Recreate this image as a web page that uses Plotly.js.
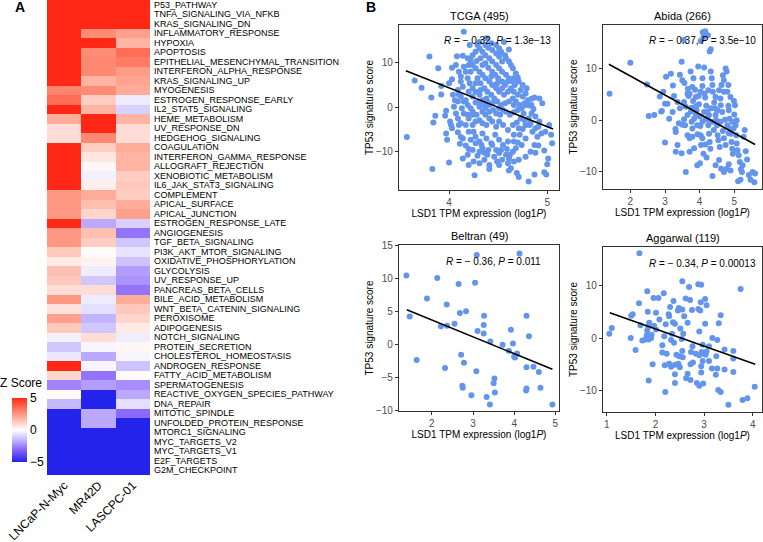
<!DOCTYPE html>
<html><head><meta charset="utf-8">
<script src="https://cdn.plot.ly/plotly-3.0.1.min.js"></script>
<style>html,body{margin:0;padding:0;background:#fff}#chart{width:763px;height:542px}</style>
</head><body><div id="chart"></div>
<script>
// ---------- Panel A: heatmap data ----------
const cellLines = ["LNCaP-N-Myc", "MR42D", "LASCPC-01"];
const pathways = ["P53_PATHWAY","TNFA_SIGNALING_VIA_NFKB","KRAS_SIGNALING_DN","INFLAMMATORY_RESPONSE","HYPOXIA","APOPTOSIS","EPITHELIAL_MESENCHYMAL_TRANSITION","INTERFERON_ALPHA_RESPONSE","KRAS_SIGNALING_UP","MYOGENESIS","ESTROGEN_RESPONSE_EARLY","IL2_STAT5_SIGNALING","HEME_METABOLISM","UV_RESPONSE_DN","HEDGEHOG_SIGNALING","COAGULATION","INTERFERON_GAMMA_RESPONSE","ALLOGRAFT_REJECTION","XENOBIOTIC_METABOLISM","IL6_JAK_STAT3_SIGNALING","COMPLEMENT","APICAL_SURFACE","APICAL_JUNCTION","ESTROGEN_RESPONSE_LATE","ANGIOGENESIS","TGF_BETA_SIGNALING","PI3K_AKT_MTOR_SIGNALING","OXIDATIVE_PHOSPHORYLATION","GLYCOLYSIS","UV_RESPONSE_UP","PANCREAS_BETA_CELLS","BILE_ACID_METABOLISM","WNT_BETA_CATENIN_SIGNALING","PEROXISOME","ADIPOGENESIS","NOTCH_SIGNALING","PROTEIN_SECRETION","CHOLESTEROL_HOMEOSTASIS","ANDROGEN_RESPONSE","FATTY_ACID_METABOLISM","SPERMATOGENESIS","REACTIVE_OXYGEN_SPECIES_PATHWAY","DNA_REPAIR","MITOTIC_SPINDLE","UNFOLDED_PROTEIN_RESPONSE","MTORC1_SIGNALING","MYC_TARGETS_V2","MYC_TARGETS_V1","E2F_TARGETS","G2M_CHECKPOINT"];
const zLNCaP = [5,5,5,5,5,5,5,5,5,3,3.5,5,2.0,0.8,0.8,5,5,5,5,5,2.5,2.5,2.5,5,2.5,2.5,1.3,0.5,1.5,1.3,0.8,2.5,0.7,2.3,1.3,-0.3,-1.2,-0.5,5,1.0,-2.5,0.1,-1.5,-5,-5,-5,-5,-5,-5,-5];
const zMR42D = [5,5,5,2.8,5,2.8,2.9,2.9,1.8,2.8,1.2,1.8,5,5,2.9,1.2,0.6,0.2,-0.3,0.4,2.0,1.5,1.0,-1.8,1.5,1.2,0.1,0.3,-0.4,-1.2,0.8,-0.4,-0.7,-1.6,-1.2,0.8,-0.2,-1.8,-0.2,-2.8,-2.0,-5,-5,-1.8,-1.8,-5,-5,-5,-5,-5];
const zLASCPC = [5,5,5,2.3,1.8,3.5,3.2,2.4,2.2,2.0,-0.4,-1.0,1.8,0.8,0.8,2.0,1.8,1.8,1.2,1.3,1.2,2.0,2.3,-1.0,-2.8,-1.2,-0.6,-1.3,-2.0,-2.2,-2.8,2.0,1.3,1.0,0.5,-0.4,0.2,-0.2,-1.3,-0.1,-2.3,-1.8,-0.7,-3.0,-5,-5,-5,-5,-5,-5];
const colorbarTicks = [-5, 0, 5];

// ---------- Panel B: scatter data (LSD1 log1P TPM, TP53 signature score) ----------
const cohortTitles = ["TCGA (495)", "Abida (266)", "Beltran (49)", "Aggarwal (119)"];
const statLabels = ["<i>R</i> = \u2212 0.32, <i>P</i> = 1.3e\u221213", "<i>R</i> = \u2212 0.37, <i>P</i> = 3.5e\u221210", "<i>R</i> = \u2212 0.36, <i>P</i> = 0.011", "<i>R</i> = \u2212 0.34, <i>P</i> = 0.00013"];
const tcgaPoints = [[4.15,17.0],[3.80,11.4],[3.89,8.8],[3.65,6.0],[3.72,4.4],[3.82,2.2],[3.86,-1.9],[3.84,-3.4],[3.57,-6.7],[3.97,-5.9],
[3.98,-7.3],[4.00,-12.4],[3.83,-13.9],[4.26,-15.3],[4.41,-13.9],[4.49,-12.2],[4.03,8.9],[4.03,6.3],[4.00,5.4],[3.92,4.8],
[3.92,2.9],[3.97,-0.8],[3.96,-1.9],[4.01,-3.2],[4.09,-5.6],[4.12,-6.7],[4.11,-8.2],[4.19,-10.7],[4.20,-9.4],[4.29,-10.9],
[4.36,-10.2],[4.33,-8.5],[4.61,-14.2],[4.63,-13.7],[4.69,-14.8],[4.71,-15.7],[4.81,-16.7],[4.87,-15.1],[4.97,-14.6],[4.99,-15.1],
[5.01,-11.5],[5.00,-12.8],[5.05,-8.1],[4.97,-9.7],[4.88,-10.2],[4.91,-8.6],[4.94,-5.9],[4.88,-4.7],[4.95,0.9],[4.92,2.0],
[4.87,2.2],[4.84,1.9],[4.82,0.4],[4.79,4.3],[4.70,6.7],[4.78,0.5],[4.61,13.0],[4.56,14.7],[4.31,14.7],[4.21,14.0],
[4.08,11.5],[4.14,11.6],[4.12,6.9],[4.14,4.6],[4.10,2.8],[4.17,1.6],[4.19,0.5],[4.15,-1.4],[4.20,-2.5],[4.24,-4.0],
[4.25,-5.5],[4.22,-7.3],[4.27,-6.6],[4.31,-7.7],[4.34,-5.9],[4.38,-7.0],[4.43,-8.1],[4.47,-6.2],[4.51,-7.3],[4.55,-8.5],
[4.59,-9.4],[4.62,-10.7],[4.66,-7.7],[4.70,-7.9],[4.72,-6.2],[4.75,-4.9],[4.78,-4.0],[4.81,-2.5],[4.84,-1.4],[4.86,-0.4],
[4.88,-2.1],[4.76,-1.4],[4.73,-2.5],[4.69,-3.4],[4.65,-4.0],[4.60,-5.1],[4.55,-4.0],[4.51,-3.2],[4.48,-4.4],[4.44,-3.2],
[4.41,-2.5],[4.38,-4.0],[4.34,-3.6],[4.31,-2.9],[4.28,-1.7],[4.24,-1.0],[4.22,-0.2],[4.27,1.1],[4.31,0.1],[4.34,-1.0],
[4.37,-0.2],[4.41,0.5],[4.45,-0.6],[4.48,-1.4],[4.52,-1.7],[4.55,-0.6],[4.58,-1.0],[4.62,-1.7],[4.66,-1.1],[4.70,-0.6],
[4.72,0.5],[4.68,1.3],[4.65,2.0],[4.61,1.3],[4.57,0.9],[4.53,0.5],[4.49,1.3],[4.46,2.0],[4.43,2.8],[4.38,2.0],
[4.34,1.6],[4.31,2.8],[4.27,3.5],[4.24,4.3],[4.21,5.4],[4.19,6.5],[4.17,8.0],[4.20,9.5],[4.22,10.6],[4.24,11.7],
[4.27,12.5],[4.31,13.2],[4.34,12.5],[4.37,11.7],[4.41,11.0],[4.44,10.3],[4.48,9.5],[4.51,8.8],[4.54,8.0],[4.58,7.3],
[4.61,6.5],[4.65,5.8],[4.67,5.0],[4.63,4.3],[4.60,3.5],[4.56,2.8],[4.51,3.5],[4.48,4.3],[4.44,5.0],[4.41,5.8],
[4.37,6.5],[4.34,7.3],[4.31,8.0],[4.27,8.8],[4.24,9.5],[4.28,10.4],[4.32,11.0],[4.37,9.9],[4.40,8.9],[4.44,8.0],
[4.47,7.3],[4.50,6.5],[4.54,5.8],[4.57,5.0],[4.54,10.3],[4.51,11.4],[4.48,12.1],[4.44,12.9],[4.40,13.4],[4.37,14.0],
[4.51,13.2],[4.57,11.7],[4.61,10.3],[4.65,8.8],[4.68,7.6],[4.29,6.5],[4.32,5.4],[4.36,4.3],[4.39,3.5],[4.32,3.9],
[4.27,5.4],[4.22,8.0],[4.34,9.5],[4.43,6.9],[4.49,5.4],[4.54,4.3],[4.60,5.8],[4.66,3.5],[4.70,2.8],[4.75,2.4],
[4.77,0.9],[4.74,-0.2],[4.80,1.6],[4.84,0.5],[4.82,-4.0],[4.85,-5.5],[4.90,-6.6],[4.78,-7.0],[4.74,-8.5],[4.68,-9.2],
[4.65,-10.0],[4.58,-10.7],[4.54,-11.8],[4.51,-10.3],[4.48,-9.6],[4.44,-8.5],[4.40,-9.6],[4.36,-11.8],[4.31,-12.6],[4.25,-12.2],
[4.20,-13.0],[4.14,-11.5],[4.17,-8.6],[4.14,-7.0],[4.10,-4.0],[4.09,-2.5],[4.07,-1.4],[4.05,0.1],[4.09,1.3],[4.13,-0.2],
[4.17,-4.0],[4.20,-5.5],[4.27,-8.1],[4.34,-9.2],[4.39,-10.7],[4.46,-11.1],[4.53,-9.6],[4.60,-7.7],[4.66,-6.2],[4.71,-4.7],
[4.77,-2.9],[4.83,-3.6],[4.92,-3.2],[4.98,-5.5],[5.02,-4.0],[5.04,-6.2],[4.91,-4.4],[4.87,-8.5],[4.83,-10.0],[4.78,-11.1],
[4.71,-11.8],[4.66,-12.2],[4.60,-12.6],[4.41,-13.0],[4.31,-10.0],[4.24,-9.6],[4.51,-13.0],[4.61,-11.5],[4.12,-3.6],[4.03,-4.7],
[4.02,-4.0],[4.06,1.6],[4.04,2.8],[4.09,3.9],[4.12,5.8],[4.15,9.1],[4.19,11.0],[4.10,8.0],[4.07,9.5],[4.29,14.0],
[4.38,15.5],[4.43,14.4],[4.48,14.0],[4.53,12.5],[4.58,11.0],[4.63,9.5],[4.66,6.5],[4.71,5.8],[4.75,5.0],[4.73,3.9],
[4.78,3.1],[4.66,0.5],[4.51,-0.2],[4.44,0.9],[4.41,-1.0],[4.37,-1.7],[4.27,-3.2],[4.24,-1.7],[4.19,-1.7],[4.15,1.3],
[4.12,2.4],[4.20,3.5],[4.24,2.4],[4.31,1.3],[4.36,0.5],[4.39,1.3]];
const abidaPoints = [[1.40,5.1],[2.00,11.1],[2.48,6.9],[2.53,0.8],[2.69,1.0],[2.91,1.8],[2.95,5.5],[2.85,4.6],[3.00,3.2],[3.07,3.2],
[2.89,1.7],[3.00,-4.3],[3.03,8.4],[3.17,9.0],[3.23,6.7],[3.26,4.7],[3.30,-1.7],[3.36,3.5],[3.40,-0.6],[3.43,8.8],
[3.48,11.3],[3.50,7.7],[3.56,7.2],[3.54,15.5],[3.60,2.6],[3.55,0.2],[3.50,-0.9],[3.58,-1.0],[3.66,6.1],[3.68,4.7],
[3.71,5.1],[3.74,9.4],[3.75,1.7],[3.77,-0.3],[3.79,-1.6],[3.81,3.7],[3.82,8.1],[3.87,5.9],[3.89,2.7],[3.91,1.9],
[3.89,1.0],[3.94,-2.7],[3.96,10.4],[3.97,4.7],[3.98,3.1],[4.00,0.7],[4.02,-1.1],[4.04,-4.8],[4.08,6.6],[4.09,17.0],
[4.16,17.2],[4.11,16.1],[4.03,15.3],[4.24,16.4],[4.29,13.3],[4.32,13.7],[4.13,10.2],[4.14,5.1],[4.16,4.4],[4.19,2.8],
[4.22,1.6],[4.23,0.1],[4.25,-1.0],[4.27,-2.6],[4.29,-4.2],[4.31,-5.5],[4.20,-7.2],[4.01,-8.3],[4.32,9.4],[4.35,8.1],
[4.38,5.5],[4.42,3.4],[4.44,2.3],[4.46,1.0],[4.48,0.0],[4.50,-1.0],[4.52,-2.9],[4.54,-3.9],[4.58,-5.2],[4.56,5.8],
[4.60,4.2],[4.61,2.9],[4.63,6.8],[4.67,8.7],[4.70,7.7],[4.75,10.0],[4.78,9.4],[4.80,5.5],[4.83,2.8],[4.84,1.9],
[4.86,0.3],[4.88,-1.6],[4.90,-2.6],[4.92,-4.2],[4.94,-5.5],[4.96,-6.5],[4.98,-1.6],[5.00,1.1],[5.02,2.9],[5.04,-1.0],
[5.06,-2.9],[5.07,-4.5],[5.09,-5.8],[5.13,-6.8],[5.16,-8.1],[5.19,-9.5],[5.22,-10.0],[5.24,-8.7],[5.27,-3.2],[5.30,-1.9],
[5.33,-6.0],[5.37,-7.6],[5.42,-10.6],[5.47,-11.5],[5.53,-10.0],[5.58,-12.0],[5.60,-10.3],[5.18,-11.5],[5.11,-11.8],[4.37,-10.8],
[4.46,-8.7],[4.56,-7.7],[4.62,-9.4],[4.70,-10.0],[4.78,-9.4],[4.84,-8.5],[4.89,-9.7],[3.60,-10.0],[3.71,-6.1],[3.84,-5.4],
[3.93,-8.7],[4.11,-6.5],[4.17,-4.7],[3.36,-4.8],[3.31,-6.1],[3.48,-6.4],[3.65,-2.9],[3.71,-3.5],[3.93,-1.0],[4.03,-2.9],
[3.79,-3.2],[4.08,-3.5],[4.13,1.6],[4.32,2.3],[4.41,-1.9],[4.60,-0.3],[4.67,-2.1],[4.70,-3.5],[4.75,-4.8],[4.80,-1.0],
[4.84,-2.5],[4.08,-0.3],[4.17,0.3],[4.27,1.0],[4.37,-0.3],[4.51,1.9],[4.65,1.6],[4.73,0.1],[4.94,-0.3],[5.07,0.0],
[4.99,3.7],[4.89,4.5],[4.83,6.8],[4.70,5.5],[4.46,4.5],[4.37,6.8],[4.25,5.8],[4.08,8.1],[4.03,5.5],[3.89,4.5],
[3.79,6.4],[3.65,5.1],[3.55,3.5],[3.43,2.3],[3.22,1.6],[3.12,0.3],[3.31,-2.3],[3.65,1.0],[3.77,2.4],[3.84,0.3]];
const beltranPoints = [[1.38,10.4],[1.46,4.2],[1.63,-2.4],[1.88,6.9],[2.13,10.0],[2.36,6.0],[2.22,2.7],[2.37,2.8],[2.32,-3.6],[2.55,3.1],
[2.65,9.1],[2.68,4.7],[2.83,5.0],[2.71,-1.6],[2.74,-6.3],[2.75,-6.6],[2.78,-2.8],[2.96,-7.7],[3.05,9.3],[3.09,13.5],
[3.11,2.0],[3.08,-4.1],[3.27,4.3],[3.26,2.9],[3.26,1.6],[3.33,-8.0],[3.41,-9.1],[3.42,0.4],[3.50,-5.9],[3.52,-5.2],
[3.53,-7.3],[3.72,-0.1],[3.87,-1.0],[3.92,2.2],[3.97,0.1],[4.02,-2.0],[4.07,-1.4],[4.13,13.7],[4.30,4.3],[4.30,-3.5],
[4.30,-6.7],[4.29,-7.0],[4.36,1.2],[4.47,-3.4],[4.60,-4.2],[4.64,-6.6],[4.93,-9.1],[4.00,-1.9]];
const aggarwalPoints = [[1.67,16.2],[2.55,10.9],[2.69,9.8],[2.88,10.3],[2.94,10.2],[3.75,9.4],[1.83,9.0],[2.17,8.6],[1.96,7.7],[2.06,7.7],
[2.62,7.6],[2.71,7.3],[3.02,7.5],[2.37,7.1],[2.93,6.9],[1.66,6.7],[2.30,6.0],[2.48,5.8],[2.55,5.5],[2.88,5.6],
[3.05,6.3],[1.84,5.1],[2.27,4.6],[2.46,5.3],[2.75,5.4],[2.92,5.3],[1.53,4.6],[1.50,4.3],[3.34,4.4],[1.10,2.0],
[1.05,0.9],[1.69,2.5],[1.87,3.0],[1.85,2.2],[2.08,3.6],[2.21,2.7],[2.36,3.1],[2.51,1.9],[2.57,0.9],[2.34,0.9],
[2.40,2.8],[1.97,2.4],[2.01,1.7],[1.92,0.7],[1.82,0.6],[1.79,-0.2],[1.73,-0.4],[1.86,-0.2],[1.91,0.1],[1.49,0.1],
[1.83,1.5],[1.59,-2.2],[2.14,-1.3],[2.32,-0.3],[2.38,-0.8],[2.54,-0.1],[2.90,1.3],[2.97,-1.2],[3.02,2.8],[3.17,0.1],
[3.27,-0.3],[3.30,2.9],[2.23,-2.9],[2.43,-3.1],[2.49,-3.4],[2.56,-3.6],[2.55,-2.4],[2.73,-2.6],[2.83,-2.9],[2.95,-2.6],
[3.00,-2.9],[3.05,-2.5],[2.90,-3.2],[3.03,-3.1],[3.25,-3.4],[3.42,-2.1],[3.60,-2.4],[3.60,-3.8],[1.94,-4.9],[2.19,-5.1],
[2.28,-4.8],[2.32,-5.4],[2.40,-5.0],[2.47,-4.8],[2.72,-4.9],[2.77,-4.6],[2.94,-5.3],[3.16,-5.7],[3.27,-5.7],[3.42,-5.9],
[3.60,-6.4],[2.40,-6.8],[2.66,-6.7],[2.50,-5.5],[2.94,-6.5],[3.24,-6.9],[2.63,-7.6],[2.72,-7.9],[1.86,-8.0],[2.40,-8.5],
[2.85,-8.5],[2.90,-9.0],[2.98,-8.6],[2.20,-10.2],[3.29,-9.8],[3.34,-10.2],[4.04,-9.2],[3.50,-12.6],[3.79,-11.7],[3.89,-11.4],
[2.28,4.2],[2.59,4.2],[3.10,-1.5],[2.66,3.0],[2.76,-1.5],[2.01,4.9],[2.14,-2.7],[3.10,-4.3],[2.97,-4.3],[2.18,0.4]];
// fitted regression line end points (x, y) per cohort
const tcgaFitX = [3.56, 5.06], tcgaFitY = [8.2, -4.9];
const abidaFitX = [1.38, 5.6], abidaFitY = [10.8, -4.7];
const beltranFitX = [1.39, 4.93], beltranFitY = [5.2, -3.8];
const aggarwalFitX = [1.06, 4.05], aggarwalFitY = [4.9, -4.9];

// ---------- styling / layout ----------
const FONT = "Liberation Sans, Arial, Helvetica, sans-serif";
const W = 763, H = 542;
const px = v => v / W;          // pixel -> paper x
const py = v => 1 - v / H;      // pixel -> paper y
const DOT = "#6495ED";

const zMatrix = pathways.map((_, i) => [zLNCaP[i], zMR42D[i], zLASCPC[i]]);

const heat = {
  type: "heatmap", x: cellLines, y: pathways, z: zMatrix,
  zmin: -5, zmax: 5, xaxis: "x", yaxis: "y", hoverinfo: "skip",
  colorscale: [[0, "rgb(35,35,235)"], [0.2, "rgb(140,105,250)"], [0.35, "rgb(198,185,255)"], [0.5, "rgb(255,255,255)"],
               [0.65, "rgb(255,192,178)"], [0.8, "rgb(255,132,108)"], [1, "rgb(255,40,22)"]],
  colorbar: {
    x: px(12), xanchor: "left", y: py(430), yanchor: "middle",
    thickness: 15, len: 64, lenmode: "pixels", xpad: 0, ypad: 0, outlinewidth: 0,
    tickvals: colorbarTicks, ticks: "inside", ticklen: 4, tickcolor: "#fff", tickwidth: 1.5,
    tickfont: {size: 12, color: "#000", family: FONT}, title: {text: ""}
  }
};

const cohorts = [
  {pts: tcgaPoints, fx: tcgaFitX, fy: tcgaFitY},
  {pts: abidaPoints, fx: abidaFitX, fy: abidaFitY},
  {pts: beltranPoints, fx: beltranFitX, fy: beltranFitY},
  {pts: aggarwalPoints, fx: aggarwalFitX, fy: aggarwalFitY}
];
const traces = [heat];
cohorts.forEach((c, i) => {
  const xa = "x" + (i + 2), ya = "y" + (i + 2);
  traces.push({type: "scatter", mode: "markers", x: c.pts.map(p => p[0]), y: c.pts.map(p => p[1]),
    xaxis: xa, yaxis: ya, marker: {color: DOT, size: 6, line: {width: 0}}, hoverinfo: "skip", cliponaxis: true});
  traces.push({type: "scatter", mode: "lines", x: c.fx, y: c.fy, xaxis: xa, yaxis: ya,
    line: {color: "#000", width: 1.6}, hoverinfo: "skip"});
});

// pixel boxes [left, right, top, bottom] of the four scatter panels
const boxes = [[399, 559, 25, 190], [603, 762, 25, 189], [399, 559, 245, 411], [603, 762, 247, 412]];
const xRanges = [[3.49, 5.12], [1.21, 5.8], [1.2, 5.09], [0.92, 4.19]];
const yRanges = [[-18.6, 18.5], [-13.3, 18.4], [-10.1, 15.0], [-14.0, 17.4]];
const yDticks = [10, 10, 5, 10];

const layout = {
  width: W, height: H, margin: {l: 0, r: 0, t: 0, b: 0}, showlegend: false,
  paper_bgcolor: "#fff", plot_bgcolor: "#fff", font: {family: FONT, color: "#000"},
  xaxis: {domain: [px(47), px(150)], anchor: "y", tickangle: -45, ticks: "", showline: false, showgrid: false, zeroline: false,
          tickfont: {size: 12, color: "#000"}, fixedrange: true},
  yaxis: {domain: [py(475), 1], anchor: "x", side: "right", autorange: "reversed", ticks: "", showline: false, showgrid: false,
          zeroline: false, tickmode: "array", tickvals: pathways, ticktext: pathways,
          tickfont: {size: 9, color: "#000"}, ticklabelstandoff: 3, fixedrange: true},
  annotations: [
    {text: "<b>A</b>", x: px(20), y: py(7), xref: "paper", yref: "paper", showarrow: false, font: {size: 14}, xanchor: "center", yanchor: "middle"},
    {text: "<b>B</b>", x: px(371), y: py(7), xref: "paper", yref: "paper", showarrow: false, font: {size: 14}, xanchor: "center", yanchor: "middle"},
    {text: "Z Score", x: px(21), y: py(383), xref: "paper", yref: "paper", showarrow: false, font: {size: 12}, xanchor: "center", yanchor: "middle"}
  ]
};

boxes.forEach((b, i) => {
  const n = i + 2;
  layout["xaxis" + n] = {domain: [px(b[0]), px(b[1])], anchor: "y" + n, range: xRanges[i], dtick: 1, tick0: 0,
    showline: true, mirror: true, linecolor: "#333", linewidth: 1.1, ticks: "outside", ticklen: 3, tickcolor: "#333",
    showgrid: false, zeroline: false, tickfont: {size: 10, color: "#4d4d4d"},
    title: {text: "LSD1 TPM expression (log1<i>P</i>)", font: {size: 10, color: "#000"}, standoff: 1}};
  layout["yaxis" + n] = {domain: [py(b[3]), py(b[2])], anchor: "x" + n, range: yRanges[i], dtick: yDticks[i], tick0: 0,
    showline: true, mirror: true, linecolor: "#333", linewidth: 1.1, ticks: "outside", ticklen: 3, tickcolor: "#333",
    showgrid: false, zeroline: false, tickfont: {size: 10, color: "#4d4d4d"},
    title: {text: "TP53 signature score", font: {size: 10, color: "#000"}, standoff: 0}};
  layout.annotations.push({text: cohortTitles[i], x: px((b[0] + b[1]) / 2), y: py(b[2] - 9), xref: "paper", yref: "paper",
    showarrow: false, font: {size: 11}, xanchor: "center", yanchor: "middle"});
  layout.annotations.push({text: statLabels[i], x: px(b[1] - (i % 2 === 0 ? 6 : 4) - (i === 2 ? 10 : 0)), y: py(b[2] + 16),
    xref: "paper", yref: "paper", showarrow: false, font: {size: 10}, xanchor: "right", yanchor: "middle"});
});

Plotly.newPlot("chart", traces, layout, {staticPlot: true, displayModeBar: false});
</script></body></html>
